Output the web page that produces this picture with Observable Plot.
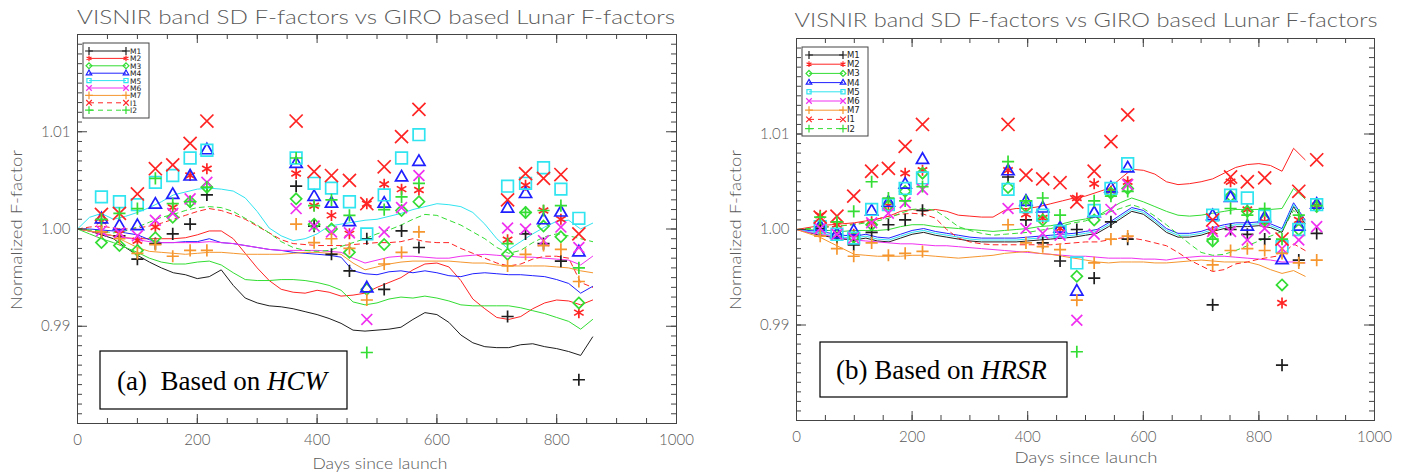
<!DOCTYPE html>
<html><head><meta charset="utf-8">
<script src="https://cdn.jsdelivr.net/npm/d3@7"></script>
<script src="https://cdn.jsdelivr.net/npm/@observablehq/plot@0.6"></script>
<style>
html,body{margin:0;padding:0;background:#fff;}
#page{position:relative;width:1413px;height:476px;overflow:hidden;font-family:"Lato","DejaVu Sans",sans-serif;}
.panel{position:absolute;top:0;}
#overlay{position:absolute;left:0;top:0;pointer-events:none;}
#overlay text{white-space:pre;}
</style></head>
<body><div id="page">
<div id="pa" class="panel" style="left:0px"></div>
<div id="pb" class="panel" style="left:720px"></div>
<svg id="overlay" width="1413" height="476"></svg>
</div>
<script>
// ---------------- DATA ----------------
const bands = ["M1","M2","M3","M4","M5","M6","M7","I1","I2"];
const xLabels = [0,200,400,600,800,1000];
const yLabels = [0.99,1.00,1.01];
const title = "VISNIR band SD F-factors vs GIRO based Lunar F-factors";

// SD F-factor trends, panel (a) HCW
const gridA = [0,20,40,60,80,100,120,140,160,180,200,220,240,260,280,300,320,340,360,380,400,420,440,460,480,500,520,540,560,580,600,620,640,660,680,700,720,740,760,780,800,820,840,860];
const aM1 = [1.0000,0.9998,0.9994,0.9990,0.9981,0.9973,0.9966,0.9960,0.9955,0.9953,0.9949,0.9951,0.9958,0.9942,0.9929,0.9924,0.9921,0.9920,0.9918,0.9915,0.9912,0.9908,0.9903,0.9896,0.9895,0.9896,0.9897,0.9899,0.9907,0.9914,0.9912,0.9904,0.9891,0.9883,0.9879,0.9878,0.9878,0.9881,0.9882,0.9879,0.9877,0.9874,0.9870,0.9889];
const aM2 = [1.0000,0.9998,0.9995,0.9993,0.9991,0.9990,0.9990,0.9990,0.9990,0.9991,0.9994,0.9998,0.9998,0.9990,0.9975,0.9960,0.9947,0.9938,0.9935,0.9934,0.9937,0.9935,0.9931,0.9932,0.9934,0.9940,0.9945,0.9950,0.9958,0.9964,0.9965,0.9961,0.9947,0.9928,0.9918,0.9909,0.9907,0.9910,0.9918,0.9924,0.9927,0.9926,0.9922,0.9927];
const aM3 = [1.0000,0.9995,0.9990,0.9986,0.9981,0.9976,0.9970,0.9966,0.9964,0.9964,0.9966,0.9967,0.9963,0.9955,0.9948,0.9947,0.9947,0.9948,0.9948,0.9947,0.9945,0.9942,0.9937,0.9925,0.9922,0.9924,0.9928,0.9930,0.9929,0.9931,0.9929,0.9926,0.9922,0.9921,0.9921,0.9921,0.9921,0.9919,0.9916,0.9913,0.9909,0.9905,0.9897,0.9907];
const aM4 = [1.0000,1.0000,0.9999,0.9998,0.9996,0.9994,0.9989,0.9986,0.9986,0.9987,0.9987,0.9990,0.9986,0.9985,0.9983,0.9981,0.9979,0.9978,0.9976,0.9975,0.9974,0.9973,0.9971,0.9957,0.9954,0.9953,0.9956,0.9957,0.9955,0.9957,0.9955,0.9952,0.9951,0.9954,0.9955,0.9954,0.9953,0.9953,0.9952,0.9951,0.9948,0.9944,0.9934,0.9941];
const aM5 = [1.0000,1.0012,1.0016,1.0010,1.0013,1.0017,1.0022,1.0028,1.0035,1.0038,1.0041,1.0042,1.0041,1.0039,1.0032,1.0018,1.0001,0.9993,0.9988,0.9990,0.9995,1.0003,1.0005,1.0007,1.0009,1.0010,1.0013,1.0016,1.0020,1.0023,1.0026,1.0025,1.0023,1.0017,1.0005,0.9990,0.9979,0.9987,0.9995,1.0002,1.0008,1.0009,1.0000,1.0006];
const aM6 = [1.0000,0.9998,0.9995,0.9993,0.9991,0.9989,0.9987,0.9986,0.9986,0.9986,0.9986,0.9987,0.9986,0.9985,0.9983,0.9981,0.9979,0.9978,0.9978,0.9978,0.9978,0.9977,0.9976,0.9970,0.9965,0.9968,0.9971,0.9972,0.9972,0.9971,0.9970,0.9970,0.9972,0.9973,0.9974,0.9973,0.9972,0.9971,0.9971,0.9970,0.9969,0.9968,0.9963,0.9972];
const aM7 = [1.0000,0.9998,0.9996,0.9993,0.9987,0.9981,0.9977,0.9976,0.9975,0.9974,0.9975,0.9976,0.9976,0.9975,0.9974,0.9974,0.9974,0.9974,0.9975,0.9976,0.9976,0.9975,0.9974,0.9965,0.9958,0.9961,0.9964,0.9966,0.9967,0.9967,0.9967,0.9967,0.9966,0.9965,0.9965,0.9963,0.9962,0.9962,0.9962,0.9962,0.9961,0.9960,0.9957,0.9955];
const aI1 = [1.0000,1.0002,1.0003,1.0001,1.0000,1.0001,1.0003,1.0006,1.0010,1.0014,1.0018,1.0021,1.0019,1.0015,1.0010,1.0003,0.9996,0.9989,0.9985,0.9984,0.9983,0.9983,0.9983,0.9984,0.9985,0.9986,0.9986,0.9987,0.9990,0.9987,0.9986,0.9986,0.9980,0.9975,0.9970,0.9965,0.9962,0.9964,0.9969,0.9972,0.9972,0.9970,0.9945,0.9940];
const aI2 = [1.0000,0.9999,0.9998,0.9996,0.9998,1.0002,1.0007,1.0012,1.0015,1.0019,1.0022,1.0023,1.0022,1.0018,1.0011,1.0004,0.9996,0.9987,0.9981,0.9978,0.9977,0.9978,0.9982,0.9986,0.9990,0.9995,0.9999,1.0004,1.0010,1.0015,1.0014,1.0009,1.0004,0.9997,0.9990,0.9981,0.9975,0.9978,0.9986,0.9992,0.9995,0.9993,0.9990,0.9987];

// Lunar F-factors, panel (a)
const lunarDaysA = [40,70,100,130,159,188,216,365,395,424,454,483,512,541,570,718,748,778,807,837];
const laM1 = [0.9997,0.9993,0.9969,0.9985,0.9995,1.0005,1.0035,1.0044,1.0003,0.9974,0.9957,0.9990,0.9938,0.9998,0.9981,0.9910,0.9995,0.9985,0.9967,0.9845];
const laM2 = [1.0008,0.9995,0.9988,1.0002,1.0022,1.0055,1.0062,1.0057,1.0024,1.0014,0.9995,1.0026,1.0046,1.0041,1.0040,0.9989,1.0045,1.0019,1.0010,0.9914];
const laM3 = [0.9986,0.9983,0.9978,0.9991,1.0012,1.0028,1.0043,1.0031,1.0005,1.0000,0.9976,0.9938,0.9984,1.0019,1.0028,0.9974,1.0017,1.0003,0.9992,0.9924];
const laM4 = [1.0010,1.0003,1.0003,1.0025,1.0035,1.0054,1.0081,1.0067,1.0033,1.0026,1.0007,0.9939,1.0026,1.0053,1.0069,1.0021,1.0036,1.0009,1.0017,0.9976];
const laM5 = [1.0033,1.0028,1.0025,1.0048,1.0055,1.0073,1.0081,1.0073,1.0047,1.0042,1.0028,0.9995,1.0035,1.0073,1.0097,1.0044,1.0047,1.0063,1.0041,1.0011];
const laM6 = [0.9998,0.9996,0.9993,1.0009,1.0016,1.0031,1.0048,1.0021,1.0003,0.9997,0.9996,0.9907,0.9997,1.0022,1.0055,1.0001,1.0000,0.9988,1.0002,0.9981];
const laM7 = [0.9997,0.9990,0.9975,0.9984,0.9972,0.9978,0.9978,1.0005,0.9986,0.9990,0.9980,0.9927,0.9964,0.9976,0.9997,0.9962,0.9974,0.9983,0.9979,0.9946];
const laI1 = [1.0015,1.0016,1.0036,1.0062,1.0066,1.0088,1.0111,1.0111,1.0059,1.0055,1.0050,1.0026,1.0064,1.0095,1.0123,1.0030,1.0057,1.0052,1.0056,0.9995];
const laI2 = [1.0010,1.0016,1.0021,1.0052,1.0026,1.0028,1.0043,1.0073,1.0024,1.0030,1.0014,0.9873,1.0020,1.0033,1.0047,0.9985,1.0017,1.0019,1.0024,0.9960];

// SD F-factor trends, panel (b) HRSR
const gridB = [0,20,40,60,80,100,120,140,160,180,200,220,240,260,280,300,320,340,360,380,400,420,440,460,480,500,520,540,560,580,600,620,640,660,680,700,720,740,760,780,800,820,840,860,880];
const bM1 = [1.0000,0.9997,0.9994,0.9992,0.9990,0.9989,0.9991,0.9988,0.9987,0.9991,0.9995,0.9997,0.9994,0.9992,0.9990,0.9988,0.9987,0.9987,0.9987,0.9987,0.9988,0.9989,0.9990,0.9991,0.9992,0.9994,0.9996,1.0003,1.0011,1.0019,1.0016,1.0007,0.9997,0.9992,0.9992,0.9994,0.9998,1.0001,1.0003,1.0003,1.0004,1.0002,0.9997,1.0024,1.0006];
const bM2 = [1.0000,1.0002,1.0004,1.0005,1.0006,1.0007,1.0009,1.0011,1.0014,1.0019,1.0021,1.0019,1.0021,1.0019,1.0015,1.0014,1.0013,1.0013,1.0020,1.0022,1.0022,1.0024,1.0027,1.0030,1.0033,1.0035,1.0039,1.0043,1.0053,1.0063,1.0062,1.0058,1.0050,1.0047,1.0048,1.0050,1.0053,1.0059,1.0065,1.0068,1.0069,1.0067,1.0061,1.0085,1.0073];
const bM3 = [1.0000,1.0000,0.9999,0.9999,0.9998,0.9999,0.9999,0.9999,1.0000,1.0003,1.0005,1.0005,1.0003,1.0002,1.0001,1.0000,0.9999,0.9998,0.9999,1.0000,1.0001,1.0003,1.0004,1.0006,1.0009,1.0011,1.0014,1.0021,1.0028,1.0033,1.0029,1.0024,1.0019,1.0015,1.0014,1.0015,1.0017,1.0019,1.0021,1.0021,1.0021,1.0021,1.0022,1.0043,1.0032];
const bM4 = [1.0000,0.9999,0.9998,0.9996,0.9994,0.9993,0.9995,0.9992,0.9991,0.9995,0.9999,1.0001,0.9998,0.9996,0.9994,0.9992,0.9991,0.9991,0.9991,0.9991,0.9992,0.9993,0.9994,0.9995,0.9996,0.9998,1.0000,1.0007,1.0015,1.0023,1.0020,1.0011,1.0001,0.9996,0.9996,0.9998,1.0002,1.0005,1.0007,1.0007,1.0008,1.0006,1.0001,1.0028,1.0010];
const bM5 = [1.0000,0.9998,0.9996,0.9994,0.9992,0.9991,0.9993,0.9990,0.9989,0.9993,0.9997,0.9999,0.9996,0.9994,0.9992,0.9990,0.9989,0.9989,0.9989,0.9989,0.9990,0.9991,0.9992,0.9993,0.9994,0.9996,0.9998,1.0005,1.0013,1.0021,1.0018,1.0009,0.9999,0.9994,0.9994,0.9996,1.0000,1.0003,1.0005,1.0005,1.0006,1.0004,0.9999,1.0026,1.0008];
const bM6 = [1.0000,0.9997,0.9995,0.9993,0.9991,0.9989,0.9988,0.9987,0.9986,0.9985,0.9985,0.9984,0.9983,0.9983,0.9982,0.9981,0.9980,0.9979,0.9978,0.9977,0.9976,0.9975,0.9974,0.9973,0.9972,0.9972,0.9971,0.9970,0.9970,0.9970,0.9969,0.9969,0.9968,0.9970,0.9971,0.9972,0.9972,0.9972,0.9971,0.9970,0.9969,0.9968,0.9966,0.9966,0.9965];
const bM7 = [1.0000,0.9996,0.9992,0.9986,0.9980,0.9974,0.9973,0.9972,0.9972,0.9972,0.9973,0.9973,0.9972,0.9971,0.9970,0.9971,0.9972,0.9973,0.9975,0.9976,0.9977,0.9975,0.9974,0.9972,0.9970,0.9968,0.9966,0.9965,0.9966,0.9966,0.9966,0.9965,0.9965,0.9966,0.9967,0.9968,0.9967,0.9966,0.9966,0.9966,0.9963,0.9958,0.9954,0.9957,0.9951];
const bI1 = [1.0000,1.0001,1.0002,1.0003,1.0004,1.0006,1.0008,1.0011,1.0014,1.0016,1.0017,1.0016,1.0012,1.0000,0.9991,0.9987,0.9985,0.9984,0.9984,0.9984,0.9984,0.9984,0.9984,0.9985,0.9986,0.9987,0.9987,0.9989,0.9991,0.9991,0.9989,0.9986,0.9983,0.9976,0.9968,0.9962,0.9956,0.9958,0.9964,0.9966,0.9969,0.9971,0.9973,0.9985,0.9978];
const bI2 = [1.0000,1.0001,1.0002,1.0003,1.0004,1.0005,1.0007,1.0009,1.0012,1.0017,1.0021,1.0022,1.0020,1.0012,1.0003,0.9999,0.9996,0.9994,0.9995,0.9996,0.9997,0.9999,1.0001,1.0004,1.0007,1.0009,1.0014,1.0018,1.0022,1.0026,1.0022,1.0014,1.0005,0.9995,0.9985,0.9976,0.9973,0.9974,0.9978,0.9983,0.9988,0.9993,0.9998,1.0020,1.0010];

// Lunar F-factors, panel (b)
const lunarDaysB = [41,70,99,130,159,188,218,366,397,426,456,485,515,544,573,720,751,780,810,840,869,900];
const lbM1 = [1.0001,0.9991,0.9984,0.9997,1.0005,1.0010,1.0020,1.0055,1.0010,0.9986,0.9967,1.0000,0.9949,1.0008,0.9990,0.9921,1.0000,0.9995,0.9990,0.9858,0.9968,0.9996];
const lbM2 = [1.0015,1.0005,0.9995,1.0008,1.0025,1.0059,1.0062,1.0062,1.0016,1.0012,1.0001,1.0033,1.0048,1.0040,1.0050,0.9998,1.0050,1.0021,1.0008,0.9923,1.0010,1.0025];
const lbM3 = [1.0001,0.9994,0.9992,1.0005,1.0025,1.0040,1.0059,1.0044,1.0024,1.0010,1.0000,0.9951,1.0010,1.0038,1.0043,0.9988,1.0035,1.0019,1.0010,0.9942,1.0000,1.0024];
const lbM4 = [1.0003,0.9995,0.9998,1.0019,1.0028,1.0047,1.0073,1.0061,1.0029,1.0022,1.0001,0.9935,1.0017,1.0043,1.0064,1.0014,1.0033,1.0003,1.0012,0.9968,1.0003,1.0026];
const lbM5 = [1.0003,0.9995,0.9991,1.0021,1.0026,1.0043,1.0054,1.0042,1.0024,1.0015,0.9998,0.9965,1.0020,1.0043,1.0069,1.0015,1.0036,1.0033,1.0014,0.9982,1.0000,1.0026];
const lbM6 = [1.0001,0.9995,0.9991,1.0007,1.0017,1.0028,1.0042,1.0022,1.0001,0.9996,0.9994,0.9905,0.9995,1.0021,1.0047,0.9998,0.9998,0.9989,1.0001,0.9980,0.9989,1.0003];
const lbM7 = [0.9993,0.9980,0.9972,0.9986,0.9973,0.9975,0.9977,1.0005,0.9986,0.9982,0.9979,0.9926,0.9965,0.9990,0.9993,0.9963,0.9978,0.9980,0.9978,0.9975,0.9965,0.9968];
const lbI1 = [1.0013,1.0014,1.0035,1.0061,1.0064,1.0087,1.0110,1.0110,1.0057,1.0053,1.0049,1.0029,1.0061,1.0092,1.0120,1.0010,1.0055,1.0050,1.0054,0.9990,1.0040,1.0073];
const lbI2 = [1.0013,1.0008,1.0019,1.0050,1.0033,1.0030,1.0045,1.0071,1.0030,1.0033,1.0015,0.9872,1.0030,1.0035,1.0040,0.9990,1.0022,1.0015,1.0022,0.9990,1.0015,1.0025];

// ---------------- STYLE ----------------
const colors = {M1:"#1e1e1e",M2:"#ff2424",M3:"#33dd33",M4:"#2020ff",M5:"#30e4f0",M6:"#f030f0",M7:"#f5962e",I1:"#ff2424",I2:"#33dd33"};
const symbols = {M1:"plus",M2:"asterisk",M3:"diamond2",M4:"triangle2",M5:"square2",M6:"times",M7:"plus",I1:"times",I2:"plus"};
const symR = {M1:4,M2:5.2,M3:5,M4:5.8,M5:7.4,M6:5,M7:4,I1:6,I2:4};
const dashes = {I1:"5,4",I2:"5,4"};
const textColor = "#5a5a5a";
const FONT = "Lato, 'DejaVu Sans', sans-serif";
const WEIGHT = 300;

const linesA = {M1:aM1,M2:aM2,M3:aM3,M4:aM4,M5:aM5,M6:aM6,M7:aM7,I1:aI1,I2:aI2};
const lunarA = {M1:laM1,M2:laM2,M3:laM3,M4:laM4,M5:laM5,M6:laM6,M7:laM7,I1:laI1,I2:laI2};
const linesB = {M1:bM1,M2:bM2,M3:bM3,M4:bM4,M5:bM5,M6:bM6,M7:bM7,I1:bI1,I2:bI2};
const lunarB = {M1:lbM1,M2:lbM2,M3:lbM3,M4:lbM4,M5:lbM5,M6:lbM6,M7:lbM7,I1:lbI1,I2:lbI2};

function makePanel(cfg){
  const {width,height,ml,mr,mt,mb,grid,lines,ldays,lunar} = cfg;
  const fw = width-ml-mr, fh = height-mt-mb;
  const xMinor = d3.range(0,1001,50);
  const xMajor = xLabels;
  const yMinor = d3.range(981,1020,1).map(d=>d/1000);
  const marks = [];
  for (const b of bands){
    const data = grid.map((d,i)=>({day:d, v:lines[b][i]}));
    marks.push(Plot.line(data,{x:"day",y:"v",stroke:colors[b],strokeWidth:1,strokeDasharray:dashes[b]||null}));
  }
  for (const b of bands){
    const data = ldays.map((d,i)=>({day:d, v:lunar[b][i]}));
    marks.push(Plot.dot(data,{x:"day",y:"v",symbol:()=>symbols[b],r:symR[b],stroke:colors[b],strokeWidth:1.7,fill:"none"}));
  }
  marks.push(Plot.tickX(xMinor,{x:d=>d,stroke:"#444",insetTop:fh-5}));
  marks.push(Plot.tickX(xMinor,{x:d=>d,stroke:"#444",insetBottom:fh-5}));
  marks.push(Plot.tickX(xMajor,{x:d=>d,stroke:"#444",insetTop:fh-9}));
  marks.push(Plot.tickX(xMajor,{x:d=>d,stroke:"#444",insetBottom:fh-9}));
  marks.push(Plot.tickY(yMinor,{y:d=>d,stroke:"#444",insetRight:fw-5}));
  marks.push(Plot.tickY(yMinor,{y:d=>d,stroke:"#444",insetLeft:fw-5}));
  marks.push(Plot.tickY(yLabels,{y:d=>d,stroke:"#444",insetRight:fw-10}));
  marks.push(Plot.tickY(yLabels,{y:d=>d,stroke:"#444",insetLeft:fw-10}));
  marks.push(Plot.frame({stroke:"#444",strokeWidth:1}));
  marks.push(Plot.axisX(xLabels,{tickSize:0,tickPadding:11,tickFormat:d=>String(d),fontSize:15,fontWeight:WEIGHT,label:null,fill:textColor}));
  marks.push(Plot.axisY(yLabels,{tickSize:0,tickPadding:7,tickFormat:d=>d.toFixed(2),fontSize:15,fontWeight:WEIGHT,label:null,fill:textColor}));
  return Plot.plot({
    width,height,marginLeft:ml,marginRight:mr,marginTop:mt,marginBottom:mb,
    x:{domain:[0,1000]}, y:{domain:[0.98,1.02]},
    clip:true,
    style:{fontFamily:FONT,fontSize:"15px",color:textColor,background:"transparent"},
    marks
  });
}

const A = makePanel({width:700,height:476,ml:77,mr:24,mt:34,mb:53,grid:gridA,lines:linesA,ldays:lunarDaysA,lunar:lunarA});
document.getElementById("pa").append(A);
const B = makePanel({width:693,height:476,ml:76,mr:39,mt:38,mb:56,grid:gridB,lines:linesB,ldays:lunarDaysB,lunar:lunarB});
document.getElementById("pb").append(B);

// ---------------- OVERLAY ----------------
const ov = d3.select("#overlay");
function txt(x,y,s,opt={}){
  const t = ov.append("text").attr("x",x).attr("y",y).text(s)
    .attr("font-family",opt.family||FONT).attr("font-size",opt.size||14).attr("font-weight",opt.weight||WEIGHT)
    .attr("fill",opt.fill||textColor).attr("text-anchor",opt.anchor||"middle");
  if (opt.len) t.attr("textLength",opt.len).attr("lengthAdjust","spacingAndGlyphs");
  if (opt.rotate) t.attr("transform",`rotate(-90,${x},${y})`);
  return t;
}
txt(376,24,title,{size:20,len:598});
txt(1086,27,title,{size:20,len:583});
txt(380,469,"Days since launch",{size:15.5,len:135});
txt(1086,463,"Days since launch",{size:15.5,len:143});
txt(22,230,"Normalized F-factor",{size:15.5,rotate:true,len:160});
txt(741,230,"Normalized F-factor",{size:15.5,rotate:true,len:160});

function legend(x0,y0,w,h,rowH,lineX0,lineX1,fs){
  ov.append("rect").attr("x",x0).attr("y",y0).attr("width",w).attr("height",h)
    .attr("fill","#fff").attr("stroke","#444").attr("stroke-width",1);
  const symMap = {plus:d3.symbolPlus,asterisk:d3.symbolAsterisk,diamond2:d3.symbolDiamond2,triangle2:d3.symbolTriangle2,square2:d3.symbolSquare2,times:d3.symbolTimes};
  bands.forEach((b,i)=>{
    const y = y0 + 8 + i*rowH;
    ov.append("line").attr("x1",lineX0).attr("x2",lineX1).attr("y1",y).attr("y2",y)
      .attr("stroke",colors[b]).attr("stroke-width",1).attr("stroke-dasharray",dashes[b]||null);
    const p = d3.symbol(symMap[symbols[b]], 22)();
    [lineX0,lineX1].forEach(xx=>ov.append("path").attr("d",p).attr("transform",`translate(${xx},${y})`)
      .attr("fill","none").attr("stroke",colors[b]).attr("stroke-width",1.2));
    ov.append("text").attr("x",lineX1+4).attr("y",y+3).text(b).attr("font-family","DejaVu Sans, sans-serif")
      .attr("font-size",fs).attr("fill","#222");
  });
}
legend(83,43,66,75,7.4,89,126,7.5);
legend(802,47,66,89,9.2,809,843,8.5);

function caption(x,y,w,h,lab,ital,tx,ty){
  ov.append("rect").attr("x",x).attr("y",y).attr("width",w).attr("height",h)
    .attr("fill","#fff").attr("stroke","#000").attr("stroke-width",1.2);
  const t = ov.append("text").attr("x",tx).attr("y",ty).attr("font-family","Liberation Serif, serif")
    .attr("font-size",27).attr("fill","#000").attr("font-weight",400);
  t.append("tspan").text(lab);
  t.append("tspan").attr("font-style","italic").text(ital);
}
caption(100,351,247,58,"(a)  Based on ","HCW",117,390);
caption(820,342,247,55,"(b) Based on ","HRSR",836,379);
</script>
</body></html>
